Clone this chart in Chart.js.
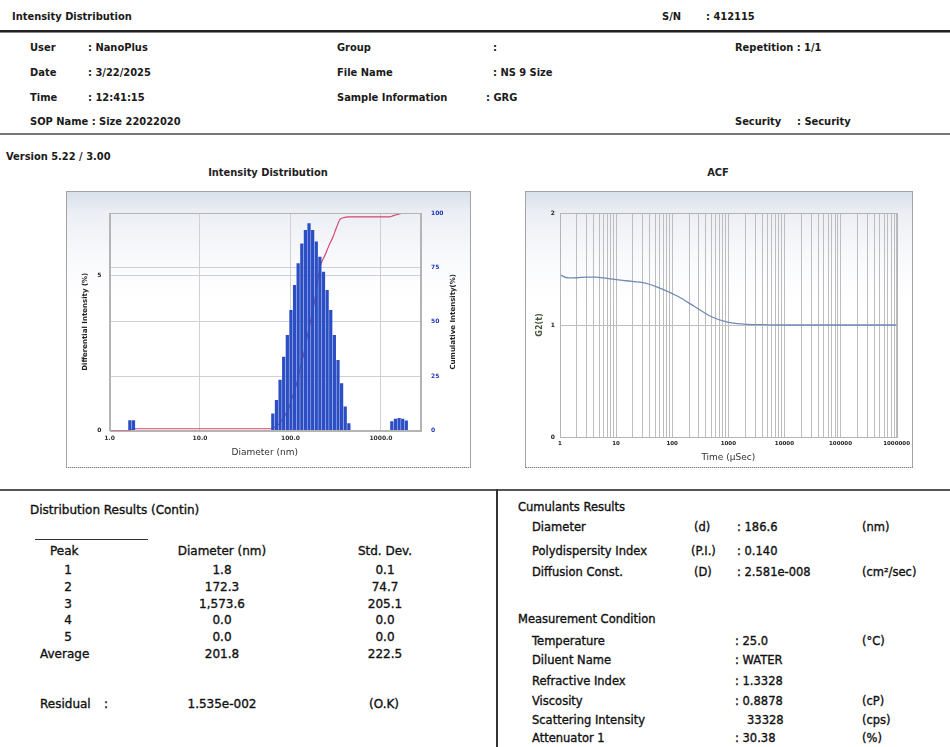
<!DOCTYPE html>
<html><head><meta charset="utf-8">
<script src="https://cdn.jsdelivr.net/npm/chart.js@4.4.1/dist/chart.umd.min.js"></script>
<style>
html,body{margin:0;padding:0;background:#fff;}
body{width:950px;height:747px;position:relative;overflow:hidden;font-family:'DejaVu Sans',Verdana,sans-serif;color:#111;}
.t{position:absolute;white-space:nowrap;line-height:14px;height:14px;}
.h{font-family:'DejaVu Sans Condensed','DejaVu Sans',sans-serif;font-weight:bold;font-size:11px;color:#1a1a1a;}
.b{font-size:12px;color:#111;-webkit-text-stroke:0.35px #111;}
.r{font-size:11.5px;color:#111;-webkit-text-stroke:0.35px #111;}
.ct{font-family:'DejaVu Sans Condensed','DejaVu Sans',sans-serif;font-weight:bold;font-size:11px;color:#222;}
.c{transform:translateX(-50%);}
.panel{position:absolute;box-sizing:border-box;border:1px solid #a3a3a3;border-bottom:1px dotted #777;background:linear-gradient(to bottom,#d9e0ea 0%,#eceff5 8%,#f9fafc 25%,#fff 40%);}
.rule{position:absolute;}
canvas{position:absolute;}
</style></head><body>

<div class="rule" style="left:0;top:30px;width:950px;height:2px;background:#222;"></div>
<div class="rule" style="left:0;top:32px;width:950px;height:1px;background:#888;"></div>
<div class="rule" style="left:0;top:133px;width:950px;height:2px;background:#777;"></div>
<div class="rule" style="left:0;top:489px;width:950px;height:2px;background:#555;"></div>
<div class="rule" style="left:496px;top:489px;width:2px;height:258px;background:#333;"></div>
<div class="rule" style="left:35px;top:539px;width:113px;height:1px;background:#333;"></div>

<div class="panel" style="left:66px;top:191px;width:405px;height:277px;"></div>
<div class="panel" style="left:525px;top:191px;width:388px;height:277px;"></div>
<canvas id="dist" width="405" height="277" style="left:66px;top:191px;"></canvas>
<canvas id="acf" width="388" height="277" style="left:525px;top:191px;"></canvas>

<script>
// ---------- chart data ----------
// Intensity distribution: peak 1 bins
const peak1Diameter = [1.679, 1.841];
const peak1Intensity = [0.33, 0.33];
// peak 2 (main) bins
const peak2Diameter = [63.8, 70.0, 76.7, 84.1, 92.3, 101.2, 110.9, 121.6, 133.4, 146.2, 160.3,
                       175.8, 192.8, 211.3, 231.7, 254.1, 278.6, 305.5, 335.0, 367.3, 402.7, 441.6];
const peak2Intensity = [0.55, 0.98, 1.63, 2.37, 3.07, 3.88, 4.68, 5.38, 6.02, 6.45, 6.67,
                        6.45, 6.08, 5.59, 5.11, 4.52, 3.88, 3.07, 2.27, 1.52, 0.77, 0.23];
// peak 3 bins
const peak3Diameter = [1318, 1445, 1585, 1738, 1905];
const peak3Intensity = [0.30, 0.38, 0.40, 0.38, 0.32];
// cumulative intensity (%)
const cumDiameter = [1.0, 1.6, 1.9, 63, 67, 73, 80, 88, 97, 106, 116, 127, 140, 153, 168, 184, 202, 212,
                     243, 266, 295, 320, 352, 385, 436, 1250, 1320, 1450, 1600, 1750, 1950, 2700];
const cumPercent = [0, 0, 0.8, 0.8, 1.5, 2.6, 4.6, 7.4, 11, 16, 21, 28, 35, 43, 51, 59, 70, 75,
                    81, 85, 89, 93, 97, 97.8, 98.2, 98.2, 98.5, 99.1, 99.6, 99.9, 100, 100];
const distXTicks = [1, 10, 100, 1000];
const distXTickLabels = ['1.0', '10.0', '100.0', '1000.0'];
const distYTicks = [0, 5];
const distY2Ticks = [0, 25, 50, 75, 100];

// ACF
const acfTime = [1, 1.4, 2, 3, 4.4, 6, 8.6, 15, 33, 65, 128, 251, 493, 968, 1900, 4000, 10000, 50000, 200000, 1000000];
const acfG2 = [1.448, 1.420, 1.422, 1.428, 1.428, 1.420, 1.410, 1.395, 1.374, 1.323, 1.254, 1.165, 1.076, 1.025, 1.008, 1.003, 1.0, 1.0, 1.0, 1.0];
const acfXTicks = [1, 10, 100, 1000, 10000, 100000, 1000000];
const acfXTickLabels = ['1', '10', '100', '1000', '10000', '100000', '1000000'];
const acfMinorSteps = [1, 2, 3, 4, 5, 6, 7, 8, 9];
const acfYTicks = [0, 1, 2];

// ---------- report text ----------
const peakNo = ['1', '2', '3', '4', '5', 'Average'];
const peakDiam = ['1.8', '172.3', '1,573.6', '0.0', '0.0', '201.8'];
const peakStd = ['0.1', '74.7', '205.1', '0.0', '0.0', '222.5'];

const texts = [
  ['Intensity Distribution', 12, 17, 'h'], ['S/N', 662, 17, 'h'], [': 412115', 706, 17, 'h'],
  ['User', 30, 48, 'h'], [': NanoPlus', 88, 48, 'h'], ['Group', 337, 48, 'h'], [':', 493, 48, 'h'], ['Repetition : 1/1', 735, 48, 'h'],
  ['Date', 30, 73, 'h'], [': 3/22/2025', 88, 73, 'h'], ['File Name', 337, 73, 'h'], [': NS 9 Size', 493, 73, 'h'],
  ['Time', 30, 98, 'h'], [': 12:41:15', 88, 98, 'h'], ['Sample Information', 337, 98, 'h'], [': GRG', 486, 98, 'h'],
  ['SOP Name : Size 22022020', 30, 122, 'h'], ['Security', 735, 122, 'h'], [': Security', 797, 122, 'h'],
  ['Version 5.22 / 3.00', 6, 157, 'h'],
  ['Intensity Distribution', 268, 173, 'ct c'], ['ACF', 718, 173, 'ct c'],
  ['Distribution Results (Contin)', 30, 510, 'b'],
  ['Peak', 50, 551, 'b'], ['Diameter (nm)', 222, 551, 'b c'], ['Std. Dev.', 385, 551, 'b c'],
  ['Residual', 40, 704, 'b'], [':', 104, 704, 'b'], ['1.535e-002', 222, 704, 'b c'], ['(O.K)', 384, 704, 'b c'],
  ['Cumulants Results', 518, 507, 'r'],
  ['Diameter', 532, 527, 'r'], ['(d)', 694, 527, 'r'], [': 186.6', 737, 527, 'r'], ['(nm)', 862, 527, 'r'],
  ['Polydispersity Index', 532, 551, 'r'], ['(P.I.)', 691, 551, 'r'], [': 0.140', 737, 551, 'r'],
  ['Diffusion Const.', 532, 572, 'r'], ['(D)', 694, 572, 'r'], [': 2.581e-008', 737, 572, 'r'], ['(cm²/sec)', 862, 572, 'r'],
  ['Measurement Condition', 518, 619, 'r'],
  ['Temperature', 532, 641, 'r'], [': 25.0', 735, 641, 'r'], ['(°C)', 862, 641, 'r'],
  ['Diluent Name', 532, 660, 'r'], [': WATER', 735, 660, 'r'],
  ['Refractive Index', 532, 681, 'r'], [': 1.3328', 735, 681, 'r'],
  ['Viscosity', 532, 701, 'r'], [': 0.8878', 735, 701, 'r'], ['(cP)', 862, 701, 'r'],
  ['Scattering Intensity', 532, 720, 'r'], ['33328', 747, 720, 'r'], ['(cps)', 862, 720, 'r'],
  ['Attenuator 1', 532, 738, 'r'], [': 30.38', 735, 738, 'r'], ['(%)', 862, 738, 'r']
];
const rowY = [570, 587, 604, 620, 637, 654];
peakNo.forEach((p, i) => {
  if (p === 'Average') texts.push([p, 40, rowY[i], 'b']); else texts.push([p, 68, rowY[i], 'b c']);
  texts.push([peakDiam[i], 222, rowY[i], 'b c']);
  texts.push([peakStd[i], 385, rowY[i], 'b c']);
});
texts.forEach(([s, x, y, cls]) => {
  const d = document.createElement('div');
  d.className = 't ' + cls;
  d.textContent = s;
  d.style.left = x + 'px';
  d.style.top = (y - 7) + 'px';
  document.body.appendChild(d);
});

// ---------- charts ----------
const FONT = "'DejaVu Sans', Verdana, sans-serif";
const toPts = (xs, ys) => xs.map((x, i) => ({x: x, y: ys[i]}));

const plotBorder = {
  id: 'plotBorder',
  afterDatasetsDraw(chart, args, opts) {
    const {ctx, chartArea: a} = chart;
    ctx.save();
    ctx.strokeStyle = opts.color || '#aaa';
    ctx.lineWidth = 1;
    ctx.strokeRect(Math.round(a.left) + 0.5, Math.round(a.top) + 0.5, Math.round(a.right - a.left), Math.round(a.bottom - a.top));
    ctx.restore();
  }
};
const sideTitle = {
  id: 'sideTitle',
  afterDraw(chart, args, opts) {
    if (!opts.text) return;
    const {ctx, chartArea: a} = chart;
    ctx.save();
    ctx.translate(opts.x, (a.top + a.bottom) / 2);
    ctx.rotate(-Math.PI / 2);
    ctx.font = opts.font;
    ctx.fillStyle = opts.color;
    ctx.textAlign = 'center';
    ctx.textBaseline = 'middle';
    ctx.fillText(opts.text, 0, 0);
    ctx.restore();
  }
};

new Chart(document.getElementById('dist'), {
  type: 'bar',
  data: {
    datasets: [
      {
        type: 'bar', label: 'Differential',
        data: toPts(peak1Diameter, peak1Intensity).concat(toPts(peak2Diameter, peak2Intensity), toPts(peak3Diameter, peak3Intensity)),
        backgroundColor: '#2b4ec4', borderWidth: 0,
        barPercentage: 0.9, categoryPercentage: 1.0,
        xAxisID: 'x', yAxisID: 'y', order: 1
      },
      {
        type: 'line', label: 'Cumulative',
        data: toPts(cumDiameter, cumPercent),
        borderColor: '#d8456a', borderWidth: 1.2, pointRadius: 0,
        cubicInterpolationMode: 'monotone', fill: false,
        xAxisID: 'x', yAxisID: 'y2', order: 2
      }
    ]
  },
  options: {
    responsive: false, animation: false, events: [],
    layout: {padding: {top: 22, left: 0, right: 0, bottom: 0}},
    plugins: {legend: {display: false}, tooltip: {enabled: false},
      plotBorder: {color: '#b4b4b4'},
      sideTitle: {text: 'Cumulative Intensity(%)', x: 387, font: "bold 7px " + FONT, color: '#222'}},
    scales: {
      x: {
        type: 'logarithmic', position: 'bottom', min: 1, max: 2700, offset: false,
        grid: {color: '#d0d0d0', drawTicks: false, offset: false},
        border: {color: '#b4b4b4'},
        afterBuildTicks: s => { s.ticks = distXTicks.map(v => ({value: v})); },
        afterFit: s => { s.height = 37.5; },
        ticks: {autoSkip: false, maxRotation: 0, padding: 4, color: '#333',
                font: {family: FONT, size: 6, weight: 'bold'},
                callback: (v, i) => distXTickLabels[i]},
        title: {display: true, text: 'Diameter (nm)', color: '#333',
                font: {family: FONT, size: 9}, padding: {top: 0, bottom: 9.5}}
      },
      y: {
        position: 'left', min: 0, max: 7,
        grid: {color: '#d0d0d0', drawTicks: false},
        border: {color: '#b4b4b4'},
        afterBuildTicks: s => { s.ticks = distYTicks.map(v => ({value: v})); },
        afterFit: s => { s.width = 43.5; },
        ticks: {padding: 8, color: '#222', font: {family: FONT, size: 6, weight: 'bold'}},
        title: {display: true, text: 'Differential Intensity (%)', color: '#222',
                font: {family: FONT, size: 7, weight: 'bold'}, padding: {top: 15, bottom: 0}}
      },
      y2: {
        position: 'right', min: 0, max: 100,
        grid: {color: '#d0d0d0', drawTicks: false},
        border: {color: '#b4b4b4'},
        afterBuildTicks: s => { s.ticks = distY2Ticks.map(v => ({value: v})); },
        afterFit: s => { s.width = 51; },
        ticks: {padding: 11, crossAlign: 'near', color: '#2233bb', font: {family: FONT, size: 6, weight: 'bold'}}
      }
    }
  },
  plugins: [plotBorder, sideTitle]
});

new Chart(document.getElementById('acf'), {
  type: 'line',
  data: {
    datasets: [{
      label: 'ACF', data: toPts(acfTime, acfG2),
      borderColor: '#7189b8', borderWidth: 1.3, pointRadius: 0,
      cubicInterpolationMode: 'monotone', fill: false
    }]
  },
  options: {
    responsive: false, animation: false, events: [],
    layout: {padding: {top: 22, left: 0, right: 10, bottom: 0}},
    plugins: {legend: {display: false}, tooltip: {enabled: false}, plotBorder: {color: '#b4b4b4'}},
    scales: {
      x: {
        type: 'logarithmic', position: 'bottom', min: 1, max: 1000000, offset: false,
        grid: {color: '#bdbdbd', drawTicks: false},
        border: {color: '#b4b4b4'},
        afterBuildTicks: s => {
          const t = [];
          acfXTicks.forEach((d, k) => {
            if (k === acfXTicks.length - 1) { t.push({value: d}); return; }
            acfMinorSteps.forEach(m => t.push({value: d * m}));
          });
          s.ticks = t;
        },
        afterFit: s => { s.height = 31; },
        ticks: {autoSkip: false, maxRotation: 0, padding: 3, color: '#222',
                font: {family: FONT, size: 5.5, weight: 'bold'},
                callback: (v) => { const k = acfXTicks.indexOf(v); return k >= 0 ? acfXTickLabels[k] : ''; }},
        title: {display: true, text: 'Time (µSec)', color: '#333',
                font: {family: FONT, size: 9}, padding: {top: 0, bottom: 4.6}}
      },
      y: {
        position: 'left', min: 0, max: 2,
        grid: {color: '#bdbdbd', drawTicks: false},
        border: {color: '#b4b4b4'},
        afterBuildTicks: s => { s.ticks = acfYTicks.map(v => ({value: v})); },
        afterFit: s => { s.width = 35; },
        ticks: {padding: 5, color: '#222', font: {family: FONT, size: 6, weight: 'bold'}},
        title: {display: true, text: 'G2(t)', color: '#46573c',
                font: {family: FONT, size: 8, weight: 'bold'}, padding: {top: 10, bottom: 0}}
      }
    }
  },
  plugins: [plotBorder]
});
</script>
</body></html>
